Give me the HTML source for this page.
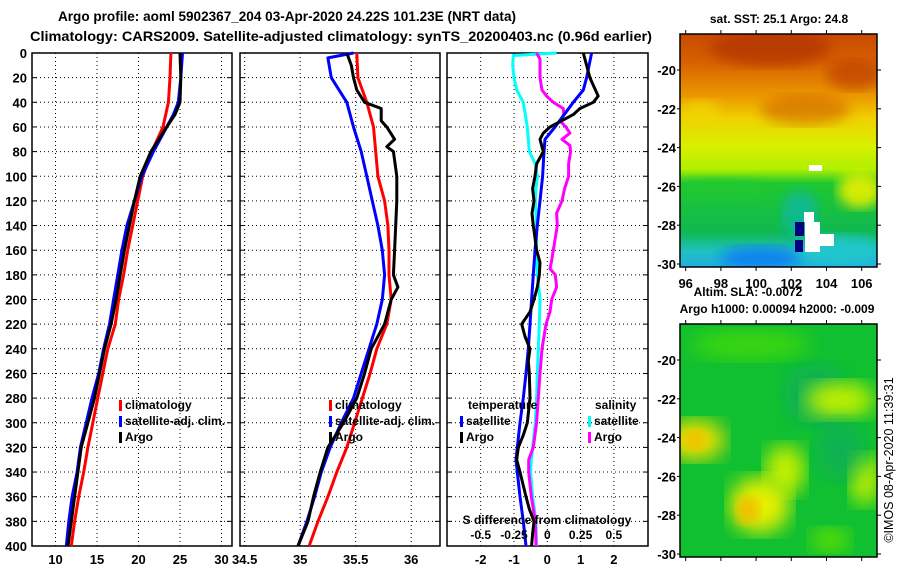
<!DOCTYPE html>
<html><head><meta charset="utf-8">
<style>
html,body{margin:0;padding:0;background:#fff;}
svg text{font-family:"Liberation Sans",sans-serif;font-weight:bold;fill:#000;}
svg text.norm{font-weight:normal;}
</style></head>
<body>
<svg id="fig" width="900" height="580" viewBox="0 0 900 580" xmlns="http://www.w3.org/2000/svg">
<defs>
 <linearGradient id="sstGrad" x1="0" y1="0" x2="0" y2="1">
  <stop offset="0" stop-color="#c84a00"/>
  <stop offset="0.12" stop-color="#d66000"/>
  <stop offset="0.27" stop-color="#ec9a00"/>
  <stop offset="0.36" stop-color="#f0d000"/>
  <stop offset="0.48" stop-color="#d8f000"/>
  <stop offset="0.58" stop-color="#b0f000"/>
  <stop offset="0.64" stop-color="#20c830"/>
  <stop offset="0.85" stop-color="#10b850"/>
  <stop offset="0.93" stop-color="#20c0c0"/>
  <stop offset="1" stop-color="#20b0e0"/>
 </linearGradient>
 <filter id="blur6"><feGaussianBlur stdDeviation="6"/></filter>
 <filter id="blur10"><feGaussianBlur stdDeviation="10"/></filter>
 <clipPath id="clipTop"><rect x="680" y="34" width="197" height="233"/></clipPath>
 <clipPath id="clipBot"><rect x="680" y="324" width="197" height="233"/></clipPath>
</defs>

<text x="58" y="21" font-size="14" textLength="458" lengthAdjust="spacingAndGlyphs">Argo profile: aoml 5902367_204 03-Apr-2020 24.22S 101.23E (NRT data)</text>
<text x="30" y="41" font-size="14" textLength="622" lengthAdjust="spacingAndGlyphs">Climatology: CARS2009. Satellite-adjusted climatology: synTS_20200403.nc (0.96d earlier)</text>

<g id="p1"></g>
<g id="p2"></g>
<g id="p3"></g>

<!-- SST map -->
<g>
 <g clip-path="url(#clipTop)">
  <rect x="680" y="34" width="197" height="233" fill="url(#sstGrad)"/>
  <ellipse cx="770" cy="48" rx="60" ry="18" fill="#b03000" opacity="0.7" filter="url(#blur6)"/>
  <ellipse cx="855" cy="75" rx="28" ry="15" fill="#b83800" opacity="0.6" filter="url(#blur6)"/>
  <ellipse cx="805" cy="110" rx="45" ry="15" fill="#d06000" opacity="0.6" filter="url(#blur6)"/>
  <ellipse cx="700" cy="110" rx="20" ry="10" fill="#f0e000" opacity="0.6" filter="url(#blur6)"/>
  <ellipse cx="860" cy="190" rx="22" ry="18" fill="#e8f000" opacity="0.9" filter="url(#blur6)"/>
  <ellipse cx="720" cy="190" rx="45" ry="12" fill="#20c830" opacity="0.6" filter="url(#blur6)"/>
  <ellipse cx="760" cy="258" rx="40" ry="12" fill="#1080f0" opacity="0.9" filter="url(#blur6)"/>
  <ellipse cx="840" cy="250" rx="40" ry="15" fill="#20c8d0" opacity="0.8" filter="url(#blur6)"/>
  <ellipse cx="800" cy="215" rx="18" ry="25" fill="#10b8a0" opacity="0.8" filter="url(#blur6)"/>
  <rect x="795" y="222" width="9" height="14" fill="#000080"/>
  <rect x="795" y="240" width="8" height="12" fill="#000080"/>
  <rect x="809" y="165" width="13" height="6" fill="#fff"/>
  <rect x="804" y="212" width="10" height="10" fill="#fff"/>
  <rect x="805" y="222" width="15" height="30" fill="#fff"/>
  <rect x="812" y="234" width="22" height="12" fill="#fff"/>
 </g>
 <rect x="680" y="34" width="197" height="233" fill="none" stroke="#000" stroke-width="1.5"/>
</g>
<g id="mapTopAxes"></g>
<text x="779" y="23" font-size="12" text-anchor="middle">sat. SST: 25.1 Argo: 24.8</text>
<text x="748" y="296" font-size="12" text-anchor="middle">Altim. SLA: -0.0072</text>
<text x="777" y="313" font-size="12" text-anchor="middle">Argo h1000: 0.00094 h2000: -0.009</text>

<!-- SLA map -->
<g>
 <g clip-path="url(#clipBot)">
  <rect x="680" y="324" width="197" height="233" fill="#10c030"/>
  <ellipse cx="750" cy="345" rx="60" ry="15" fill="#50e000" opacity="0.7" filter="url(#blur10)"/>
  <ellipse cx="815" cy="395" rx="30" ry="30" fill="#10a868" opacity="0.7" filter="url(#blur10)"/>
  <ellipse cx="840" cy="400" rx="35" ry="18" fill="#c0f000" filter="url(#blur10)"/>
  <ellipse cx="695" cy="440" rx="30" ry="20" fill="#f0e000" filter="url(#blur10)"/>
  <ellipse cx="695" cy="440" rx="12" ry="10" fill="#f0c000" filter="url(#blur6)"/>
  <ellipse cx="760" cy="505" rx="30" ry="28" fill="#e8f000" filter="url(#blur10)"/>
  <ellipse cx="785" cy="470" rx="20" ry="25" fill="#c8f000" filter="url(#blur10)"/>
  <ellipse cx="748" cy="510" rx="12" ry="14" fill="#f0c000" filter="url(#blur6)"/>
  <ellipse cx="865" cy="480" rx="15" ry="25" fill="#c0f000" filter="url(#blur10)"/>
  <ellipse cx="840" cy="450" rx="25" ry="30" fill="#10a868" opacity="0.6" filter="url(#blur10)"/>
  <ellipse cx="830" cy="540" rx="20" ry="12" fill="#60e000" filter="url(#blur10)"/>
 </g>
 <rect x="680" y="324" width="197" height="233" fill="none" stroke="#000" stroke-width="1.5"/>
</g>
<g id="mapBotAxes"></g>
<text class="norm" transform="translate(893,460) rotate(-90)" font-size="12.5" text-anchor="middle">©IMOS 08-Apr-2020 11:39:31</text>
</svg>

<script>
// ---------- data ----------
const depthsClimT = [0,20,40,60,80,100,120,140,160,180,200,220,240,260,280,300,320,340,360,380,400];
const climTemp = [23.9,23.8,23.6,22.95,21.6,20.5,19.9,19.3,18.7,18.2,17.6,17.2,16.3,15.7,15.1,14.5,13.9,13.4,12.8,12.3,11.9];
const depthsSatT = [0,20,40,50,60,80,100,120,140,160,180,200,220,240,260,280,300,320,340,360,380,400];
const satTemp = [25.3,25.1,24.8,24.2,23.4,21.8,20.4,19.5,18.6,18.0,17.5,17.0,16.5,15.8,15.2,14.4,13.7,13.0,12.6,12.0,11.6,11.3];
const argoTemp = [25.0,25.1,25.0,24.4,23.4,21.5,20.2,19.5,18.9,18.3,17.8,17.3,16.7,15.9,15.3,14.7,13.9,13.1,12.7,12.3,11.9,11.5];

const climSal = [35.51,35.52,35.60,35.66,35.68,35.70,35.76,35.79,35.80,35.80,35.82,35.78,35.69,35.63,35.56,35.49,35.42,35.33,35.25,35.16,35.08];
const depthsSatS = [0,4,20,40,60,80,100,120,140,160,180,200,220,240,260,280,300,320,340,360,380,400];
const satSal = [35.48,35.25,35.28,35.42,35.48,35.55,35.60,35.65,35.70,35.74,35.76,35.74,35.69,35.62,35.55,35.48,35.37,35.27,35.19,35.13,35.06,34.98];
const depthsArgoS = [0,10,20,30,40,45,55,60,70,76,80,100,120,140,160,180,190,200,220,240,260,280,300,320,340,360,380,400];
const argoSal = [35.42,35.46,35.48,35.51,35.58,35.73,35.73,35.78,35.85,35.78,35.84,35.87,35.87,35.86,35.85,35.84,35.88,35.82,35.76,35.64,35.58,35.51,35.39,35.25,35.18,35.12,35.07,34.98];

const depthsSatDT = [0,20,30,40,60,70,80,100,120,140,160,180,200,220,240,260,280,300,320,330,340,360,380,400];
const satTDiff = [1.33,1.18,1.08,0.78,0.23,-0.07,-0.10,-0.14,-0.22,-0.30,-0.37,-0.42,-0.47,-0.52,-0.57,-0.64,-0.72,-0.82,-0.90,-0.94,-0.90,-0.82,-0.72,-0.64];
const depthsArgoDT = [0,10,20,35,40,45,50,60,65,70,80,90,100,110,120,130,140,150,160,170,180,190,200,210,220,230,240,250,260,280,300,310,320,330,340,360,370,380,390,400];
const argoTDiff = [1.08,1.18,1.28,1.53,1.38,0.98,0.78,0.08,-0.12,-0.22,-0.12,-0.32,-0.37,-0.44,-0.40,-0.46,-0.42,-0.37,-0.32,-0.22,-0.24,-0.30,-0.40,-0.52,-0.77,-0.67,-0.52,-0.57,-0.54,-0.52,-0.60,-0.72,-0.87,-0.92,-0.82,-0.64,-0.54,-0.40,-0.44,-0.47];
const depthsSatDS = [0,2,10,20,30,40,60,80,90,100,110,120,140,160,180,200,220,240,260,280,300,320,330,340,360,380,400];
const satSDiff = [0.07,-0.255,-0.26,-0.25,-0.23,-0.18,-0.15,-0.135,-0.09,-0.075,-0.085,-0.09,-0.08,-0.08,-0.075,-0.055,-0.06,-0.0675,-0.075,-0.08,-0.09,-0.11,-0.12,-0.125,-0.11,-0.085,-0.08];
const depthsArgoDS = [0,5,20,30,35,40,45,50,55,60,65,70,75,80,90,100,110,120,130,140,150,160,170,175,180,190,200,210,220,240,260,280,300,320,330,340,360,380,400];
const argoSDiff = [-0.08,-0.055,-0.055,-0.04,-0.005,0.045,0.12,0.125,0.095,0.14,0.17,0.11,0.17,0.175,0.16,0.16,0.13,0.11,0.07,0.075,0.06,0.045,0.03,0.02,0.06,0.07,0.033,0.02,-0.01,-0.04,-0.055,-0.0675,-0.08,-0.105,-0.14,-0.14,-0.12,-0.09,-0.085];

const depthTicks = [0,20,40,60,80,100,120,140,160,180,200,220,240,260,280,300,320,340,360,380,400];
const tempTicks = [10,15,20,25,30];
const salTicks = [34.5,35,35.5,36];
const tDiffTicks = [-2,-1,0,1,2];
const sDiffTickLabels = ["-0.5","-0.25","0","0.25","0.5"];
const lonTicks = [96,98,100,102,104,106];
const latTicks = [-20,-22,-24,-26,-28,-30];

// ---------- helpers ----------
const NS = "http://www.w3.org/2000/svg";
function mk(tag, attrs, parent){ const e=document.createElementNS(NS,tag); for(const k in attrs) e.setAttribute(k,attrs[k]); parent.appendChild(e); return e; }
const Y0=53, Y1=546;
const yD = d => Y0 + d*(Y1-Y0)/400;

function panel(g, x0, x1, xScale, ticks, labels){
  depthTicks.forEach(d=>{ if(d>0&&d<400){ const l=mk('line',{x1:x0,x2:x1,y1:yD(d),y2:yD(d),stroke:'#000','stroke-width':1,'stroke-dasharray':'1,3'},g);
      }
    mk('line',{x1:x0,x2:x0+5,y1:yD(d),y2:yD(d),stroke:'#000','stroke-width':1},g);
    mk('line',{x1:x1-5,x2:x1,y1:yD(d),y2:yD(d),stroke:'#000','stroke-width':1},g);
  });
  ticks.forEach((t,i)=>{ const x=xScale(t);
    if(x>x0+2&&x<x1-2){ const l=mk('line',{x1:x,x2:x,y1:Y0,y2:Y1,stroke:'#000','stroke-width':1,'stroke-dasharray':'1,3'},g);
        }
    if(labels){ const tx=mk('text',{x:x,y:564,'font-size':13,'text-anchor':'middle'},g); tx.textContent=labels[i];
        }
  });
  const r=mk('rect',{x:x0,y:Y0,width:x1-x0,height:Y1-Y0,fill:'none',stroke:'#000','stroke-width':1.5},g);
   
}
function line(g, depths, vals, xScale, color, name){
  const pts = depths.map((d,i)=>xScale(vals[i]).toFixed(1)+','+yD(d).toFixed(1)).join(' ');
  const p=mk('polyline',{points:pts,fill:'none',stroke:color,'stroke-width':3,'stroke-linejoin':'round'},g);
   
}
function legendEntry(g,x,y,color,label){
  const r=mk('rect',{x:x,y:y-9,width:3,height:11,fill:color},g);
   
  const t=mk('text',{x:x+6,y:y,'font-size':12},g); t.textContent=label;
   
}

// ---------- panel 1 ----------
const g1=document.getElementById('p1');
const xT = v => 55.5 + (v-10)*8.3;
panel(g1,32,232,xT,tempTicks,tempTicks.map(String));
depthTicks.forEach(d=>{ const t=mk('text',{x:27,y:yD(d)+5,'font-size':13,'text-anchor':'end'},g1); t.textContent=d;
    });
line(g1,depthsClimT,climTemp,xT,'#ff0000','climatology-temp-line');
line(g1,depthsSatT,satTemp,xT,'#0000ff','satellite-temp-line');
line(g1,depthsSatT,argoTemp,xT,'#000000','argo-temp-line');
legendEntry(g1,119,409,'#ff0000','climatology');
legendEntry(g1,119,425,'#0000ff','satellite-adj. clim.');
legendEntry(g1,119,441,'#000000','Argo');

// ---------- panel 2 ----------
const g2=document.getElementById('p2');
const xS = v => 244.7 + (v-34.5)*111;
panel(g2,240,440,xS,salTicks,["34.5","35","35.5","36"]);
line(g2,depthsClimT,climSal,xS,'#ff0000','climatology-sal-line');
line(g2,depthsSatS,satSal,xS,'#0000ff','satellite-sal-line');
line(g2,depthsArgoS,argoSal,xS,'#000000','argo-sal-line');
legendEntry(g2,329,409,'#ff0000','climatology');
legendEntry(g2,329,425,'#0000ff','satellite-adj. clim.');
legendEntry(g2,329,441,'#000000','Argo');

// ---------- panel 3 ----------
const g3=document.getElementById('p3');
const xDT = v => 547.3 + v*33.3;
const xDS = v => 547.3 + v*4*33.3;
panel(g3,447,648,xDT,tDiffTicks,tDiffTicks.map(String));
line(g3,depthsSatDS,satSDiff,xDS,'#00ffff','satellite-sal-diff-line');
line(g3,depthsArgoDS,argoSDiff,xDS,'#ff00ff','argo-sal-diff-line');
line(g3,depthsSatDT,satTDiff,xDT,'#0000ff','satellite-temp-diff-line');
line(g3,depthsArgoDT,argoTDiff,xDT,'#000000','argo-temp-diff-line');
let tt=mk('text',{x:468,y:409,'font-size':12},g3); tt.textContent='temperature';
 
tt=mk('text',{x:595,y:409,'font-size':12},g3); tt.textContent='salinity';
 
legendEntry(g3,460,425,'#0000ff','satellite');
legendEntry(g3,460,441,'#000000','Argo');
legendEntry(g3,588,425,'#00ffff','satellite');
legendEntry(g3,588,441,'#ff00ff','Argo');
tt=mk('text',{x:547,y:524,'font-size':12,'text-anchor':'middle'},g3); tt.textContent='S difference from climatology';
 
[-0.5,-0.25,0,0.25,0.5].forEach((v,i)=>{ const t=mk('text',{x:xDS(v),y:539,'font-size':12,'text-anchor':'middle'},g3); t.textContent=sDiffTickLabels[i];
    });

// ---------- map axes ----------
function mapAxes(id, top, bottom, lat20y, lat30y, showLon){
  const g=document.getElementById(id);
  const xl = lon => 685.7 + (lon-96)*17.6;
  const yl = lat => lat20y + (-20-lat)*(lat30y-lat20y)/10;
  lonTicks.forEach(lon=>{ const x=xl(lon);
    mk('line',{x1:x,x2:x,y1:top-4,y2:top,stroke:'#000'},g); mk('line',{x1:x,x2:x,y1:bottom,y2:bottom+4,stroke:'#000'},g);
    if(showLon){ const t=mk('text',{x:x,y:bottom+21,'font-size':13,'text-anchor':'middle'},g); t.textContent=lon;
        }
  });
  latTicks.forEach(lat=>{ const y=yl(lat);
    mk('line',{x1:877,x2:881,y1:y,y2:y,stroke:'#000'},g);
    mk('line',{x1:677,x2:680,y1:y,y2:y,stroke:'#000'},g);
    const t=mk('text',{x:676,y:y+5,'font-size':13,'text-anchor':'end'},g); t.textContent=lat;
     
  });
}
mapAxes('mapTopAxes',34,267,70,264,true);
mapAxes('mapBotAxes',324,557,360,554,false);
</script>
</body></html>
